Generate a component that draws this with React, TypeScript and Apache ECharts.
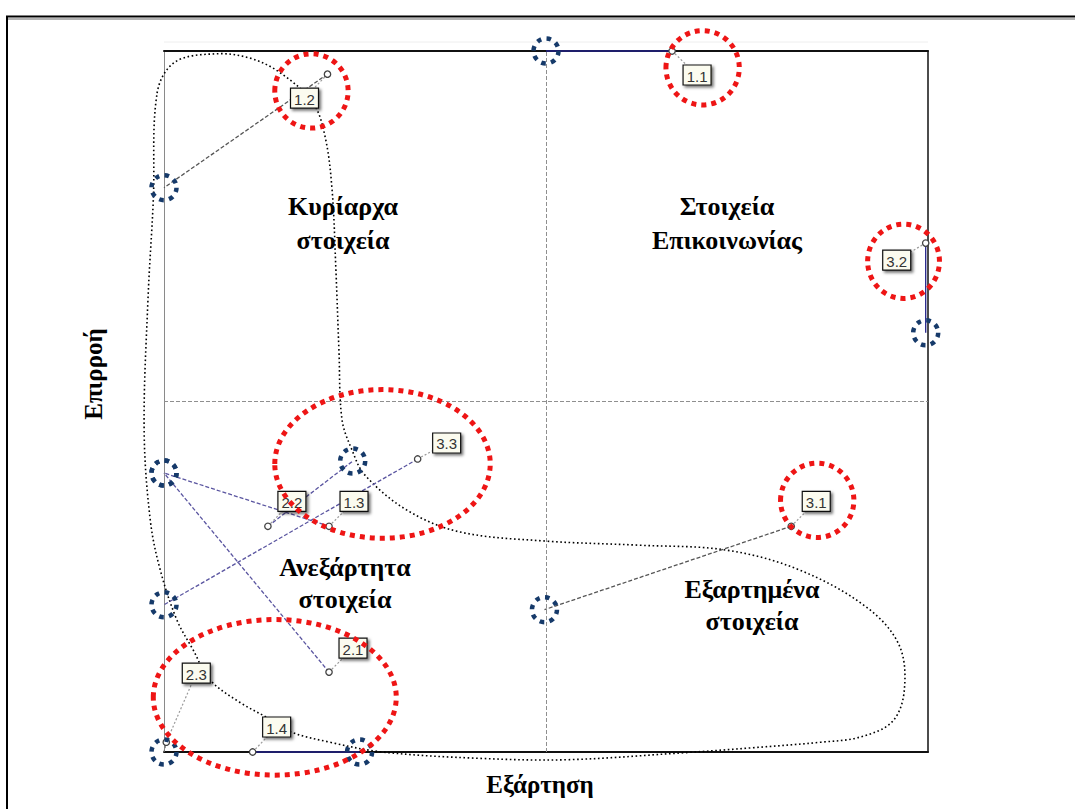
import React, { useEffect, useRef } from 'react';
import * as echarts from 'echarts';

// Items (variables) of the structural analysis
const itemNames = ['1.1', '1.2', '1.3', '1.4', '2.1', '2.2', '2.3', '3.1', '3.2', '3.3'];
// Current position (Εξάρτηση, Επιρροή)
const currX = [66.5, 21.4, 21.6, 11.6, 21.6, 13.6, 0.3, 82.1, 99.7, 33.2];
const currY = [100, 96.7, 32.2, 0, 11.4, 32.2, 1.4, 32.2, 72.6, 41.8];
// Previous / direct position (blue dashed circles)
const prevX = [50, 0, 0, 25.6, 0, 24.7, 0, 49.8, 99.7, 0];
const prevY = [100, 80.5, 39.8, 0, 39.8, 41.5, 0, 20.3, 59.8, 21];

// Closed dotted boundary (data coords)
const curveX = [-0.9, 1.4, 6.7, 11.2, 15.2, 19.5, 21.1, 22.0, 22.5, 22.9, 23.3, 24.6, 26.3, 31.8, 38.7, 49.8, 62.2, 73.6, 83.1, 91.9, 96.2, 96.9, 95.3, 91.0, 86.0, 77.0, 68.1, 52.8, 41.2, 28.6, 21.7, 16.5, 13.5, 9.9, 6.0, 3.8, 1.7, -0.5, -1.8, -2.6, -2.1, -1.4];
const curveY = [94.0, 98.4, 99.6, 99.0, 96.9, 92.6, 87.7, 80.2, 68.8, 57.3, 47.4, 43.1, 39.5, 34.5, 31.4, 30.1, 29.5, 28.8, 26.0, 20.7, 15.3, 8.8, 4.3, 2.1, 1.4, 0.6, -0.1, -1.1, -0.9, 0, 1.4, 2.9, 4.9, 7.1, 10.3, 14.6, 18.8, 26.0, 33.1, 45.9, 64.5, 78.7];

// Red highlight ellipses: centres (data coords)
const ellipseCX = [70.5, 19.3, 96.8, 28.6, 85.5, 14.5];
const ellipseCY = [97.6, 94.3, 70.0, 41.1, 35.9, 7.8];

// Styling (not data)
const ellipseRX = [4.8, 4.8, 4.7, 14.1, 4.8, 15.9];
const ellipseRY = [5.3, 5.3, 5.3, 10.6, 5.3, 11.1];
const labelDX = [25, -23, 25, 24, 24, 24, 30, 25, -29, 29];
const labelDY = [24, 24, -25, -25, -24, -25, -69, -25, 17, -16];
const moveColor = ['#23238a', '#555555', '#5a55a0', '#23238a', '#5a55a0', '#5a55a0', '#777777', '#555555', '#23238a', '#5a55a0'];
const moveDash = [null, [4, 2], [4, 2], null, [4, 2], [4, 2], [2, 2], [4, 2], null, [4, 2]];

const SERIF = '"Liberation Serif", "Times New Roman", "DejaVu Serif", serif';
const SANS = '"Liberation Sans", Arial, sans-serif';

export default function App() {
  const ref = useRef<HTMLDivElement>(null);
  useEffect(() => {
    document.body.style.margin = '0';
    if (!ref.current) return;
    const chart = echarts.init(ref.current, undefined, { renderer: 'svg' });

    const hiddenAxis = (pos: string, color: string, width: number) => ({
      type: 'value',
      min: 0,
      max: 100,
      position: pos,
      axisLine: { show: true, onZero: false, lineStyle: { color, width } },
      axisTick: { show: false },
      axisLabel: { show: false },
      splitLine: { show: false },
    });

    const bigText = (x: number, y: number, text: string, lh: number) => ({
      type: 'text', x, y,
      style: { text, fontFamily: SERIF, fontWeight: 'bold', fontSize: 26, lineHeight: lh, fill: '#000', align: 'center', verticalAlign: 'middle' },
    });

    const option: any = {
      animation: false,
      backgroundColor: '#ffffff',
      grid: { left: 164, top: 51, width: 764, height: 701, containLabel: false },
      xAxis: [hiddenAxis('bottom', '#111', 2), hiddenAxis('top', '#111', 2)],
      yAxis: [hiddenAxis('left', '#8a8a8a', 1), hiddenAxis('right', '#111', 1.5)],
      graphic: [
        { type: 'line', shape: { x1: 6, y1: 16.5, x2: 1075, y2: 16.5 }, style: { stroke: '#000', lineWidth: 2 } },
        { type: 'line', shape: { x1: 8, y1: 19, x2: 1075, y2: 19 }, style: { stroke: '#666', lineWidth: 1 } },
        { type: 'line', shape: { x1: 7, y1: 16, x2: 7, y2: 809 }, style: { stroke: '#000', lineWidth: 2 } },
        { type: 'line', shape: { x1: 164, y1: 42, x2: 928, y2: 42 }, style: { stroke: '#eeeeee', lineWidth: 1 } },
        bigText(343, 223, 'Κυρίαρχα\nστοιχεία', 34),
        bigText(727, 223, 'Στοιχεία\nΕπικοινωνίας', 34),
        bigText(345, 583, 'Ανεξάρτητα\nστοιχεία', 32),
        bigText(752, 605, 'Εξαρτημένα\nστοιχεία', 32),
        {
          type: 'text', x: 93, y: 374, rotation: Math.PI / 2,
          style: { text: 'Επιρροή', fontFamily: SERIF, fontWeight: 'bold', fontSize: 25, fill: '#000', align: 'center', verticalAlign: 'middle' },
        },
        {
          type: 'text', x: 540, y: 784,
          style: { text: 'Εξάρτηση', fontFamily: SERIF, fontWeight: 'bold', fontSize: 25, fill: '#000', align: 'center', verticalAlign: 'middle' },
        },
      ],
      series: [
        {
          name: 'midlines',
          type: 'line',
          data: [],
          silent: true,
          z: 1,
          markLine: {
            silent: true,
            symbol: ['none', 'none'],
            label: { show: false },
            lineStyle: { color: '#8f8f8f', width: 1, type: [4, 2] },
            data: [{ xAxis: 50 }, { yAxis: 50 }],
          },
        },
        {
          name: 'boundary',
          type: 'custom',
          clip: false,
          silent: true,
          z: 2,
          data: [[0, 0]],
          renderItem: (params: any, api: any) => {
            const pts = curveX.map((x, i) => api.coord([x, curveY[i]]));
            return {
              type: 'polygon',
              shape: { points: pts, smooth: 0.35 },
              style: { fill: 'none', stroke: '#000', lineWidth: 1.6, lineDash: [1.6, 2.6] },
            };
          },
        },
        {
          name: 'moves',
          type: 'custom',
          clip: false,
          silent: true,
          z: 3,
          data: itemNames.map((_, i) => [currX[i], currY[i], prevX[i], prevY[i]]),
          renderItem: (params: any, api: any) => {
            const i = params.dataIndex;
            const a = api.coord([api.value(0), api.value(1)]);
            const b = api.coord([api.value(2), api.value(3)]);
            return {
              type: 'line',
              shape: { x1: a[0], y1: a[1], x2: b[0], y2: b[1] },
              style: { stroke: moveColor[i], lineWidth: 1.3, lineDash: moveDash[i] || undefined },
            };
          },
        },
        {
          name: 'points',
          type: 'custom',
          clip: false,
          silent: true,
          z: 4,
          data: itemNames.map((_, i) => [currX[i], currY[i]]),
          renderItem: (params: any, api: any) => {
            const i = params.dataIndex;
            const p = api.coord([api.value(0), api.value(1)]);
            const lx = p[0] + labelDX[i];
            const ly = p[1] + labelDY[i];
            return {
              type: 'group',
              children: [
                {
                  type: 'line',
                  shape: { x1: p[0], y1: p[1], x2: lx, y2: ly },
                  style: { stroke: '#9a9a9a', lineWidth: 1.2, lineDash: [2, 2] },
                },
                {
                  type: 'rect',
                  shape: { x: lx - 14, y: ly - 10, width: 28, height: 20 },
                  style: {
                    fill: '#fbfbef', stroke: '#111', lineWidth: 1.2,
                    shadowBlur: 3, shadowOffsetX: 2, shadowOffsetY: 2, shadowColor: 'rgba(0,0,0,0.55)',
                  },
                },
                {
                  type: 'text',
                  x: lx, y: ly + 1,
                  style: { text: itemNames[i], fontFamily: SANS, fontSize: 15, fill: '#333', align: 'center', verticalAlign: 'middle' },
                },
                {
                  type: 'circle',
                  shape: { cx: p[0], cy: p[1], r: 3.2 },
                  style: { fill: '#ffffff', stroke: '#444', lineWidth: 1.3 },
                },
              ],
            };
          },
        },
        {
          name: 'previous',
          type: 'custom',
          clip: false,
          silent: true,
          z: 5,
          data: itemNames.map((_, i) => [prevX[i], prevY[i]]),
          renderItem: (params: any, api: any) => {
            const p = api.coord([api.value(0), api.value(1)]);
            return {
              type: 'circle',
              shape: { cx: p[0], cy: p[1], r: 12.5 },
              style: { fill: 'none', stroke: '#163a6a', lineWidth: 4.5, lineDash: [4.5, 5.3] },
            };
          },
        },
        {
          name: 'highlight',
          type: 'custom',
          clip: false,
          silent: true,
          z: 6,
          data: ellipseCX.map((x, i) => [x, ellipseCY[i], ellipseRX[i], ellipseRY[i]]),
          renderItem: (params: any, api: any) => {
            const c = api.coord([api.value(0), api.value(1)]);
            const s = api.size([api.value(2), api.value(3)]);
            return {
              type: 'ellipse',
              shape: { cx: c[0], cy: c[1], rx: s[0], ry: s[1] },
              style: { fill: 'none', stroke: '#ee1515', lineWidth: 5, lineDash: [5, 5] },
            };
          },
        },
      ],
    };
    chart.setOption(option);
    return () => chart.dispose();
  }, []);
  return <div ref={ref} style={{ width: 1075, height: 809 }} />;
}
